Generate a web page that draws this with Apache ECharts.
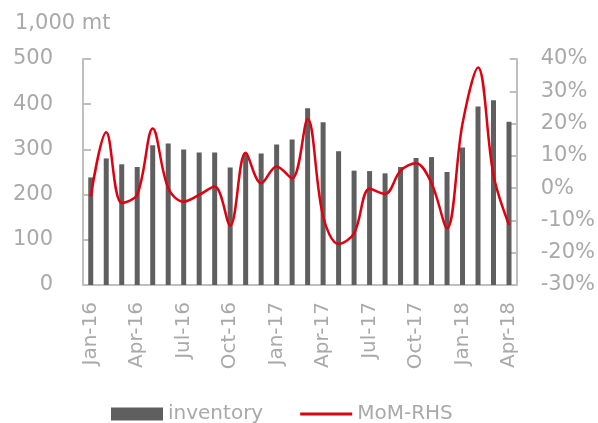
<!DOCTYPE html>
<html>
<head>
<meta charset="utf-8">
<script src="https://cdn.jsdelivr.net/npm/echarts@6/dist/echarts.min.js"></script>
<style>
  html, body { margin: 0; padding: 0; background: #fff; }
  #chart { width: 598px; height: 423px; }
</style>
</head>
<body>
<div id="chart"></div>
<script>
const months = [
  'Jan-16', 'Feb-16', 'Mar-16', 'Apr-16', 'May-16', 'Jun-16', 'Jul-16', 'Aug-16', 'Sep-16', 'Oct-16', 'Nov-16', 'Dec-16',
  'Jan-17', 'Feb-17', 'Mar-17', 'Apr-17', 'May-17', 'Jun-17', 'Jul-17', 'Aug-17', 'Sep-17', 'Oct-17', 'Nov-17', 'Dec-17',
  'Jan-18', 'Feb-18', 'Mar-18', 'Apr-18'
]

// 1,000 mt
const inventory = [
  238, 280, 267, 261, 309, 313, 300, 293, 293, 260, 292, 291,
  311, 322, 391, 360, 296, 253, 252, 247, 261, 281, 283, 250,
  304, 395, 409, 361
]

// month on month, %
const mom = [
  -2.6, 17.3, -4.6, -2.0, 18.5, 0.0, -4.2, -2.1, 0.5, -11.6, 11.0, 1.5,
  6.7, 3.0, 21.4, -8.8, -17.3, -14.0, -0.2, -1.8, 5.4, 7.7, 1.5, -12.4,
  20.0, 37.4, 4.0, -11.4
]

const font = 'DejaVu Sans'
const grey = '#a9a9a9'
const axisGrey = '#bfbfbf'
const red = '#e0000f'

const chart = echarts.init(document.getElementById('chart'))

chart.setOption({
  animation: false,
  textStyle: { fontFamily: font },
  title: {
    text: '1,000 mt',
    left: 10,
    top: 8,
    textStyle: { fontFamily: font, fontSize: 21, fontWeight: 'normal', color: grey }
  },
  legend: {
    left: 106,
    top: 399,
    itemWidth: 52,
    itemHeight: 13,
    itemGap: 37,
    textStyle: { fontFamily: font, fontSize: 20, color: grey },
    data: [
      { name: 'inventory', icon: 'rect' },
      { name: 'MoM-RHS', icon: 'path://M0,0 H52 V3 H0 Z' }
    ]
  },
  grid: {
    left: 83,
    right: 80,
    top: 59,
    bottom: 138
  },
  xAxis: {
    type: 'category',
    data: months,
    boundaryGap: true,
    axisLine: { lineStyle: { color: axisGrey, width: 2 } },
    axisTick: { inside: true, interval: 2, length: 6, lineStyle: { color: axisGrey, width: 2 } },
    axisLabel: {
      interval: 2,
      rotate: 90,
      margin: 17,
      fontFamily: font,
      fontSize: 20,
      color: grey
    }
  },
  yAxis: [
    {
      type: 'value',
      min: 0,
      max: 500,
      interval: 100,
      splitLine: { show: false },
      axisLine: { show: true, lineStyle: { color: axisGrey, width: 2 } },
      axisTick: { show: true, inside: true, length: 8, lineStyle: { color: axisGrey, width: 2 } },
      axisLabel: { margin: 30, fontFamily: font, fontSize: 21, color: grey }
    },
    {
      type: 'value',
      min: -30,
      max: 40,
      interval: 10,
      splitLine: { show: false },
      axisLine: { show: true, lineStyle: { color: axisGrey, width: 2 } },
      axisTick: { show: true, inside: true, length: 7, lineStyle: { color: axisGrey, width: 2 } },
      axisLabel: { margin: 24, fontFamily: font, fontSize: 21, color: grey, formatter: '{value}%' }
    }
  ],
  series: [
    {
      name: 'inventory',
      type: 'bar',
      data: inventory,
      barWidth: 5,
      itemStyle: { color: '#5f5f5f' }
    },
    {
      name: 'MoM-RHS',
      type: 'line',
      yAxisIndex: 1,
      data: mom,
      smooth: 0.35,
      symbol: 'none',
      lineStyle: { color: red, width: 2.5 },
      itemStyle: { color: red }
    }
  ]
})
</script>
</body>
</html>
